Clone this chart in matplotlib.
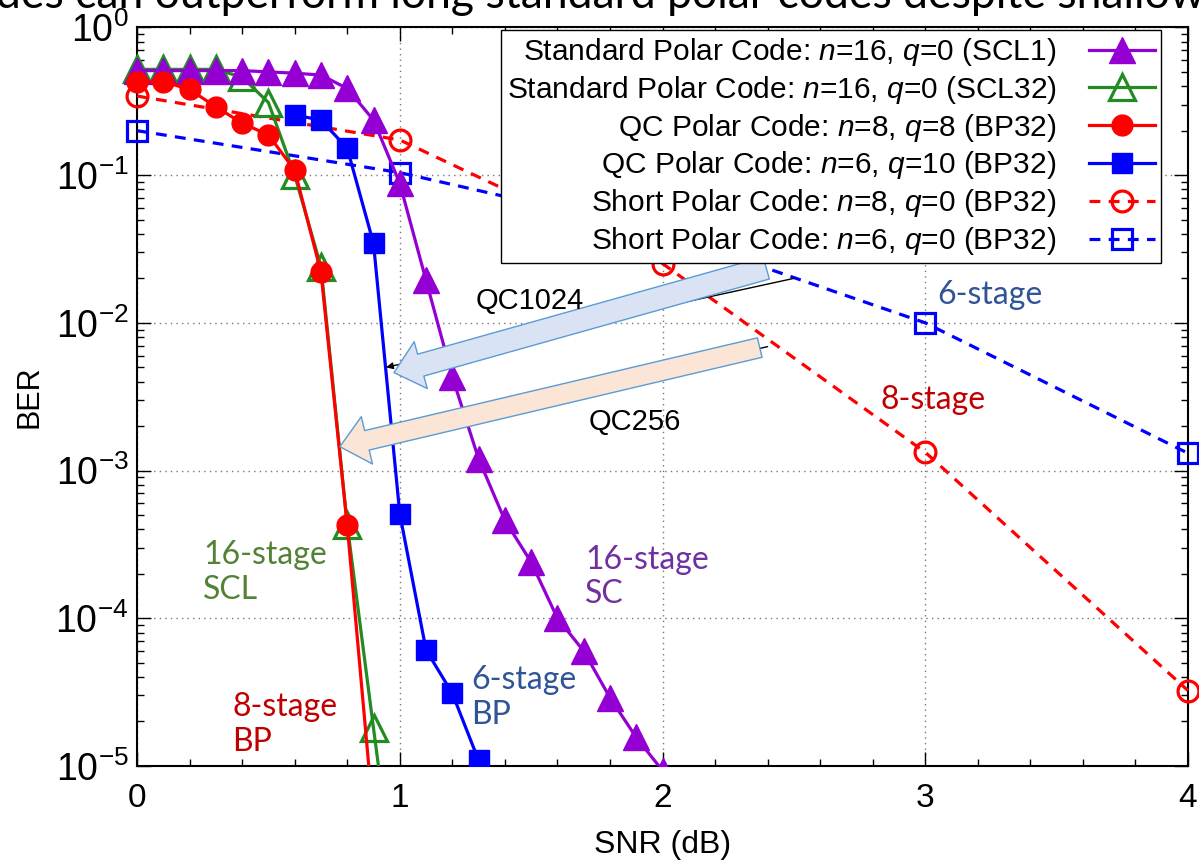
import numpy as np
import matplotlib
matplotlib.use('Agg')
import matplotlib.pyplot as plt
from matplotlib.patches import Rectangle
from matplotlib.ticker import MultipleLocator, LogLocator, NullFormatter, FuncFormatter

plt.rcParams['font.family'] = ['Liberation Sans', 'DejaVu Sans']
plt.rcParams['mathtext.fontset'] = 'custom'
plt.rcParams['mathtext.rm'] = 'Liberation Sans'
plt.rcParams['mathtext.it'] = 'Liberation Sans:italic'

# SNR grids
snr_sc = [0.0, 0.1, 0.2, 0.3, 0.4, 0.5, 0.6, 0.7, 0.8, 0.9, 1.0,
          1.1, 1.2, 1.3, 1.4, 1.5, 1.6, 1.7, 1.8, 1.9, 2.0]
snr_scl = [0.0, 0.1, 0.2, 0.3, 0.4, 0.5, 0.6, 0.7, 0.8, 0.9, 1.0]
snr_qc8 = [0.0, 0.1, 0.2, 0.3, 0.4, 0.5, 0.6, 0.7, 0.8, 0.9]
snr_qc6 = [0.6, 0.7, 0.8, 0.9, 1.0, 1.1, 1.2, 1.3]
snr_short = [0, 1, 2, 3, 4]

# BER values
ber_scl1 = [0.51, 0.51, 0.51, 0.51, 0.51, 0.50, 0.49, 0.476, 0.386, 0.236, 0.088,
            0.0194, 0.0043, 0.0012, 4.6e-4, 2.4e-4, 1.0e-4, 6.0e-5, 2.9e-5, 1.56e-5, 9.3e-6]
ber_scl32 = [0.52, 0.52, 0.52, 0.52, 0.46, 0.31, 0.10, 0.024, 4.3e-4, 1.8e-5, 8e-7]
ber_qc8 = [0.43, 0.43, 0.38, 0.29, 0.225, 0.187, 0.108, 0.022, 4.25e-4, 4.4e-6]
ber_qc6 = [0.255, 0.236, 0.152, 0.0345, 5.1e-4, 6.1e-5, 3.1e-5, 1.09e-5]
ber_short8 = [0.343, 0.173, 0.0252, 1.33e-3, 3.24e-5]
ber_short6 = [0.20, 0.104, 0.041, 0.010, 1.31e-3]

labels = ['Standard Polar Code: $n$=16, $q$=0 (SCL1)',
          'Standard Polar Code: $n$=16, $q$=0 (SCL32)',
          'QC Polar Code: $n$=8, $q$=8 (BP32)',
          'QC Polar Code: $n$=6, $q$=10 (BP32)',
          'Short Polar Code: $n$=8, $q$=0 (BP32)',
          'Short Polar Code: $n$=6, $q$=0 (BP32)']

fig = plt.figure(figsize=(11.99, 8.65), dpi=100)
ax = fig.add_axes([0.1143, 0.1145, 0.8765, 0.8538])

lw = 2.3
dash = (3.4, 2.6)
lines = []
lines += ax.plot(snr_sc, ber_scl1, '-', color='#9400d3', lw=lw, marker='^', ms=19, label=labels[0], zorder=5)
lines += ax.plot(snr_scl, ber_scl32, '-', color='#228b22', lw=lw, marker='^', ms=19, mfc='none', mew=2.3, label=labels[1], zorder=4)
lines += ax.plot(snr_qc8, ber_qc8, '-', color='#ff0000', lw=lw, marker='o', ms=15, label=labels[2], zorder=6)
lines += ax.plot(snr_qc6, ber_qc6, '-', color='#0000ff', lw=lw, marker='s', ms=14, label=labels[3], zorder=6)
lines += ax.plot(snr_short, ber_short8, '--', color='#ff0000', lw=lw, dashes=dash, marker='o', ms=15, mfc='none', mew=2.3, label=labels[4], zorder=3)
lines += ax.plot(snr_short, ber_short6, '--', color='#0000ff', lw=lw, dashes=dash, marker='s', ms=14, mfc='none', mew=2.3, label=labels[5], zorder=3)

# let markers on the side edges spill over, but cut curves at the bottom
clip = Rectangle((-0.05, 0), 1.1, 1.1, transform=ax.transAxes)
for ln in lines:
    ln.set_clip_path(clip)

ax.set_yscale('log')
ax.set_xlim(0, 4)
ax.set_ylim(1e-5, 1)
ax.xaxis.set_major_locator(MultipleLocator(1))
ax.xaxis.set_minor_locator(MultipleLocator(0.2))
ax.yaxis.set_major_locator(LogLocator(base=10, numticks=10))
ax.yaxis.set_minor_locator(LogLocator(base=10, subs=np.arange(2, 10), numticks=20))
ax.yaxis.set_minor_formatter(NullFormatter())
ax.yaxis.set_major_formatter(FuncFormatter(lambda v, p: '$10^{%d}$' % round(np.log10(v))))
ax.tick_params(which='both', direction='in', top=True, right=True)
ax.tick_params(axis='y', labelsize=27, pad=6)
ax.tick_params(axis='x', labelsize=24, pad=12)
ax.tick_params(which='major', length=10, width=1)
ax.tick_params(which='minor', length=5, width=1)
ax.grid(True, which='major', ls=(0, (1, 3)), color='#777777', lw=1)
for s in ax.spines.values():
    s.set_linewidth(1.5)

ax.set_xlabel('SNR (dB)', fontsize=23, labelpad=12)
ax.set_ylabel('BER', fontsize=22, labelpad=8)

leg = ax.legend(loc='upper right', bbox_to_anchor=(0.9743, 0.9965), borderaxespad=0,
                markerfirst=False, fontsize=21.5, fancybox=False, framealpha=1,
                edgecolor='black', labelspacing=0.195, handlelength=2.2, handletextpad=1.1,
                borderpad=0.2)
leg.get_frame().set_linewidth(1)
leg.set_zorder(10)

# old gnuplot arrows under the block arrows
ax.annotate('', xy=(0.948, 0.005), xytext=(2.5, 0.020),
            arrowprops=dict(arrowstyle='-|>', color='black', lw=1, shrinkA=0, shrinkB=0), zorder=7)
ax.annotate('', xy=(0.78, 0.0015), xytext=(2.4, 0.0069),
            arrowprops=dict(arrowstyle='-|>', color='black', lw=1, shrinkA=0, shrinkB=0), zorder=7)

# block arrows
ax.annotate('', xy=(0.978, 0.0046), xytext=(2.395, 0.0235),
            arrowprops=dict(arrowstyle='simple,head_length=1.0,head_width=1.75,tail_width=0.82',
                            mutation_scale=20, fc='#dae3f3', ec='#5b9bd5', lw=1,
                            shrinkA=0, shrinkB=0), zorder=8)
ax.annotate('', xy=(0.772, 0.00145), xytext=(2.37, 0.0068),
            arrowprops=dict(arrowstyle='simple,head_length=1.0,head_width=1.75,tail_width=0.72',
                            mutation_scale=20, fc='#fbe5d6', ec='#5b9bd5', lw=1,
                            shrinkA=0, shrinkB=0), zorder=8)

ax.text(1.496, 0.0141, 'QC1024', fontsize=21, ha='center', va='center', zorder=9)
ax.text(1.895, 0.00213, 'QC256', fontsize=21, ha='center', va='center', zorder=9)

# coloured notes
note = dict(fontsize=23, family=['Lato', 'DejaVu Sans'], ha='left', va='center', linespacing=1.2, zorder=9)
ax.text(3.045, 0.0154, '6-stage', color='#2f5597', **note)
ax.text(2.828, 0.0030, '8-stage', color='#c00000', **note)
ax.text(0.251, 2.04e-4, '16-stage\nSCL', color='#538135', **note)
ax.text(1.705, 1.9e-4, '16-stage\nSC', color='#7030a0', **note)
ax.text(1.271, 2.9e-5, '6-stage\nBP', color='#2f5597', **note)
ax.text(0.3615, 1.9e-5, '8-stage\nBP', color='#c00000', **note)

# slide title, cut off at the top edge
fig.text(-0.003, 1 - 8 / 865, 'des can outperform long standard polar codes despite shallower',
         fontsize=32, family=['Lato', 'DejaVu Sans'], ha='left', va='baseline')

fig.savefig('out.png', dpi=100)
